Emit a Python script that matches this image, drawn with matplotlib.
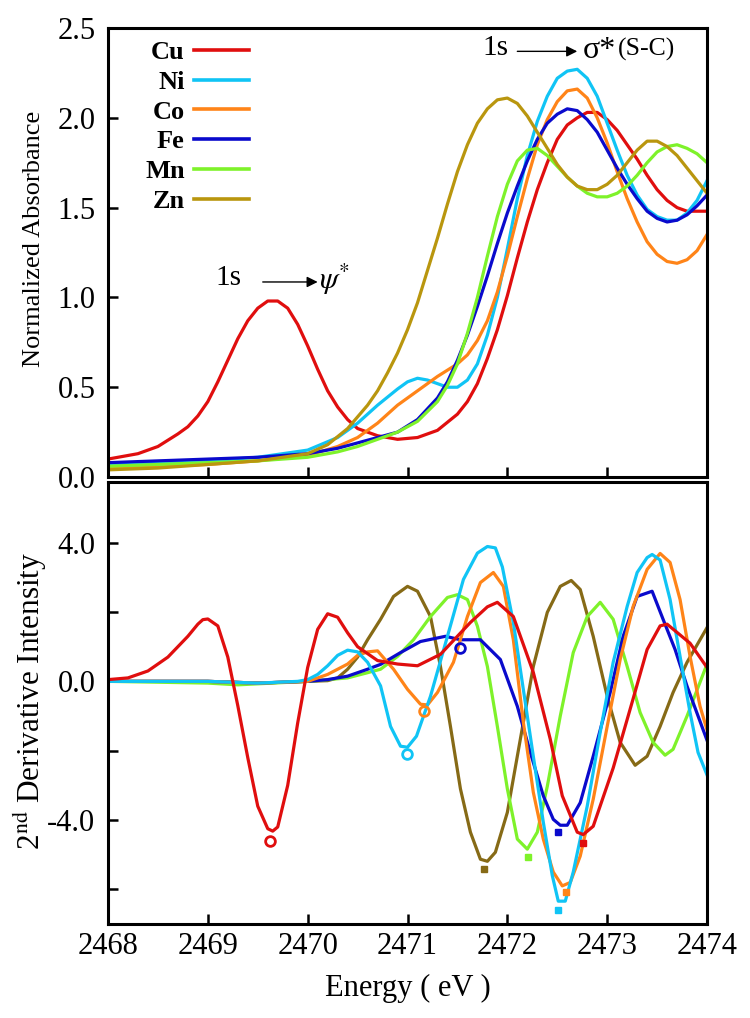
import matplotlib
matplotlib.use("Agg")
import matplotlib.pyplot as plt
from matplotlib.lines import Line2D
from matplotlib.ticker import MultipleLocator, FuncFormatter

plt.rcParams["font.family"] = ["Liberation Serif", "DejaVu Serif"]
plt.rcParams["mathtext.fontset"] = "stix"
plt.rcParams["axes.unicode_minus"] = False

# ---------------------------------------------------------------------
# Data (energy in eV)
# ---------------------------------------------------------------------
metals = ["Cu", "Ni", "Co", "Fe", "Mn", "Zn"]

# normalized absorbance (top panel)
cu_abs_e = [2468.0, 2468.3, 2468.5, 2468.7, 2468.8, 2468.9, 2469.0, 2469.1, 2469.2, 2469.3,
            2469.4, 2469.5, 2469.6, 2469.7, 2469.8, 2469.9, 2470.0, 2470.1, 2470.2, 2470.3,
            2470.4, 2470.5, 2470.7, 2470.9, 2471.1, 2471.3, 2471.5, 2471.6, 2471.7, 2471.8,
            2471.9, 2472.0, 2472.1, 2472.2, 2472.3, 2472.4, 2472.5, 2472.6, 2472.7, 2472.8,
            2472.9, 2473.0, 2473.1, 2473.2, 2473.3, 2473.4, 2473.5, 2473.6, 2473.7, 2473.8,
            2473.9, 2474.0]
cu_abs = [0.10, 0.13, 0.17, 0.24, 0.28, 0.34, 0.42, 0.53, 0.65, 0.77,
          0.87, 0.94, 0.98, 0.98, 0.94, 0.85, 0.73, 0.60, 0.48, 0.39,
          0.32, 0.27, 0.23, 0.21, 0.22, 0.26, 0.35, 0.42, 0.52, 0.66,
          0.82, 1.01, 1.22, 1.42, 1.60, 1.75, 1.88, 1.96, 2.00, 2.03,
          2.03, 1.99, 1.93, 1.85, 1.77, 1.68, 1.60, 1.54, 1.50, 1.48,
          1.48, 1.48]

ni_abs_e = [2468.0, 2468.5, 2469.0, 2469.5, 2470.0, 2470.3, 2470.5, 2470.7, 2470.9, 2471.0,
            2471.1, 2471.2, 2471.3, 2471.4, 2471.5, 2471.6, 2471.7, 2471.8, 2471.9, 2472.0,
            2472.1, 2472.2, 2472.3, 2472.4, 2472.5, 2472.6, 2472.7, 2472.8, 2472.9, 2473.0,
            2473.1, 2473.2, 2473.3, 2473.4, 2473.5, 2473.6, 2473.7, 2473.8, 2473.9, 2474.0]
ni_abs = [0.07, 0.08, 0.09, 0.11, 0.15, 0.22, 0.30, 0.40, 0.49, 0.53,
          0.55, 0.54, 0.52, 0.50, 0.50, 0.54, 0.63, 0.79, 1.00, 1.27,
          1.55, 1.79, 1.98, 2.12, 2.22, 2.26, 2.27, 2.22, 2.12, 1.97,
          1.82, 1.68, 1.57, 1.49, 1.45, 1.43, 1.43, 1.47, 1.54, 1.65]

co_abs_e = [2468.0, 2468.5, 2469.0, 2469.5, 2470.0, 2470.3, 2470.5, 2470.7, 2470.9, 2471.1,
            2471.3, 2471.5, 2471.6, 2471.7, 2471.8, 2471.9, 2472.0, 2472.1, 2472.2, 2472.3,
            2472.4, 2472.5, 2472.6, 2472.7, 2472.8, 2472.9, 2473.0, 2473.1, 2473.2, 2473.3,
            2473.4, 2473.5, 2473.6, 2473.7, 2473.8, 2473.9, 2474.0]
co_abs = [0.05, 0.06, 0.07, 0.09, 0.12, 0.17, 0.22, 0.30, 0.40, 0.48,
          0.56, 0.63, 0.68, 0.76, 0.87, 1.03, 1.23, 1.45, 1.66, 1.85,
          1.99, 2.09, 2.15, 2.16, 2.11, 2.00, 1.86, 1.70, 1.55, 1.42,
          1.31, 1.24, 1.20, 1.19, 1.21, 1.26, 1.35]

fe_abs_e = [2468.0, 2468.5, 2469.0, 2469.5, 2470.0, 2470.3, 2470.5, 2470.7, 2470.9, 2471.1,
            2471.3, 2471.4, 2471.5, 2471.6, 2471.7, 2471.8, 2471.9, 2472.0, 2472.1, 2472.2,
            2472.3, 2472.4, 2472.5, 2472.6, 2472.7, 2472.8, 2472.9, 2473.0, 2473.1, 2473.2,
            2473.3, 2473.4, 2473.5, 2473.6, 2473.7, 2473.8, 2473.9, 2474.0]
fe_abs = [0.08, 0.09, 0.10, 0.11, 0.13, 0.16, 0.19, 0.22, 0.25, 0.32,
          0.44, 0.53, 0.65, 0.79, 0.95, 1.12, 1.30, 1.47, 1.62, 1.76,
          1.88, 1.97, 2.02, 2.05, 2.04, 1.99, 1.92, 1.82, 1.72, 1.63,
          1.55, 1.48, 1.44, 1.42, 1.43, 1.46, 1.51, 1.57]

mn_abs_e = [2468.0, 2468.5, 2469.0, 2469.5, 2470.0, 2470.3, 2470.5, 2470.7, 2470.9, 2471.1,
            2471.3, 2471.4, 2471.5, 2471.6, 2471.7, 2471.8, 2471.9, 2472.0, 2472.1, 2472.2,
            2472.3, 2472.4, 2472.5, 2472.6, 2472.7, 2472.8, 2472.9, 2473.0, 2473.1, 2473.2,
            2473.3, 2473.4, 2473.5, 2473.6, 2473.7, 2473.8, 2473.9, 2474.0]
mn_abs = [0.06, 0.07, 0.08, 0.09, 0.11, 0.14, 0.17, 0.21, 0.25, 0.31,
          0.42, 0.51, 0.63, 0.80, 1.00, 1.23, 1.45, 1.63, 1.76, 1.82,
          1.83, 1.79, 1.73, 1.67, 1.62, 1.58, 1.56, 1.56, 1.58, 1.62,
          1.68, 1.75, 1.81, 1.84, 1.85, 1.83, 1.80, 1.75]

zn_abs_e = [2468.0, 2468.5, 2469.0, 2469.5, 2470.0, 2470.2, 2470.4, 2470.6, 2470.7, 2470.8,
            2470.9, 2471.0, 2471.1, 2471.2, 2471.3, 2471.4, 2471.5, 2471.6, 2471.7, 2471.8,
            2471.9, 2472.0, 2472.1, 2472.2, 2472.3, 2472.4, 2472.5, 2472.6, 2472.7, 2472.8,
            2472.9, 2473.0, 2473.1, 2473.2, 2473.3, 2473.4, 2473.5, 2473.6, 2473.7, 2473.8,
            2473.9, 2474.0]
zn_abs = [0.04, 0.05, 0.07, 0.09, 0.13, 0.18, 0.27, 0.40, 0.48, 0.58,
          0.69, 0.82, 0.97, 1.15, 1.33, 1.52, 1.70, 1.85, 1.97, 2.05,
          2.10, 2.11, 2.08, 2.01, 1.92, 1.83, 1.74, 1.67, 1.62, 1.60,
          1.60, 1.63, 1.68, 1.75, 1.82, 1.87, 1.87, 1.84, 1.79, 1.72,
          1.65, 1.58]

# 2nd derivative (bottom panel)
cu_d2_e = [2468.0, 2468.2, 2468.4, 2468.6, 2468.8, 2468.9, 2468.95, 2469.0, 2469.1, 2469.2,
           2469.3, 2469.4, 2469.5, 2469.6, 2469.65, 2469.7, 2469.8, 2469.9, 2470.0, 2470.1,
           2470.2, 2470.3, 2470.4, 2470.5, 2470.7, 2470.9, 2471.1, 2471.33, 2471.63, 2471.8,
           2471.9, 2472.06, 2472.26, 2472.43, 2472.55, 2472.7, 2472.76, 2472.86, 2473.06, 2473.26,
           2473.4, 2473.53, 2473.6, 2473.83, 2474.0]
cu_d2 = [0.05, 0.1, 0.3, 0.7, 1.3, 1.65, 1.78, 1.8, 1.6, 0.7,
         -0.7, -2.2, -3.6, -4.25, -4.32, -4.2, -3.0, -1.2, 0.4, 1.5,
         1.95, 1.85, 1.4, 1.0, 0.6, 0.5, 0.45, 0.78, 1.7, 2.15,
         2.28, 1.87, 0.26, -1.67, -3.3, -4.35, -4.42, -4.18, -2.5, -0.5,
         0.92, 1.6, 1.65, 1.1, 0.4]

ni_d2_e = [2468.0, 2469.0, 2469.5, 2469.9, 2470.0, 2470.1, 2470.2, 2470.3, 2470.4, 2470.5,
           2470.6, 2470.73, 2470.83, 2470.93, 2471.0, 2471.09, 2471.23, 2471.4, 2471.56, 2471.7,
           2471.8, 2471.88, 2471.95, 2472.06, 2472.16, 2472.26, 2472.36, 2472.45, 2472.51, 2472.58,
           2472.66, 2472.8, 2472.93, 2473.06, 2473.2, 2473.3, 2473.4, 2473.45, 2473.53, 2473.63,
           2473.73, 2473.83, 2473.91, 2474.0]
ni_d2 = [0.0, 0.0, -0.05, 0.0, 0.05, 0.2, 0.45, 0.75, 0.9, 0.85,
         0.55, -0.13, -1.3, -1.87, -1.9, -1.58, -0.43, 1.3, 2.94, 3.7,
         3.89, 3.85, 3.3, 1.7, -0.23, -2.16, -4.06, -5.6, -6.34, -6.34,
         -5.5, -3.6, -1.47, 0.55, 2.16, 3.14, 3.57, 3.66, 3.5, 2.36,
         0.72, -0.9, -2.05, -2.7]

co_d2_e = [2468.0, 2469.0, 2469.5, 2470.0, 2470.2, 2470.4, 2470.5, 2470.6, 2470.7, 2470.86,
           2471.0, 2471.13, 2471.2, 2471.3, 2471.46, 2471.6, 2471.73, 2471.86, 2471.96, 2472.06,
           2472.16, 2472.26, 2472.36, 2472.46, 2472.55, 2472.63, 2472.73, 2472.86, 2473.0, 2473.13,
           2473.26, 2473.4, 2473.53, 2473.63, 2473.73, 2473.83, 2473.93, 2474.0]
co_d2 = [0.0, 0.0, -0.05, 0.0, 0.2, 0.5, 0.75, 0.85, 0.88, 0.35,
         -0.23, -0.66, -0.68, -0.32, 0.55, 1.87, 2.85, 3.14, 2.74, 1.2,
         -1.18, -3.2, -4.55, -5.5, -5.9, -5.8, -5.04, -3.4, -1.3, 0.63,
         2.16, 3.23, 3.69, 3.43, 2.36, 0.72, -0.72, -1.4]

fe_d2_e = [2468.0, 2469.0, 2469.5, 2470.0, 2470.2, 2470.4, 2470.6, 2470.73, 2470.93, 2471.13,
           2471.38, 2471.53, 2471.73, 2471.93, 2472.1, 2472.23, 2472.36, 2472.46, 2472.53, 2472.6,
           2472.73, 2472.86, 2473.03, 2473.16, 2473.3, 2473.45, 2473.56, 2473.68, 2473.8, 2474.0]
fe_d2 = [0.0, 0.0, -0.05, 0.0, 0.05, 0.15, 0.35, 0.49, 0.83, 1.15,
         1.3, 1.2, 1.2, 0.63, -0.72, -2.05, -3.3, -3.98, -4.15, -4.15,
         -3.5, -2.16, -0.32, 1.3, 2.45, 2.6, 1.79, 0.92, -0.14, -1.7]

mn_d2_e = [2468.0, 2469.0, 2469.3, 2470.0, 2470.2, 2470.4, 2470.6, 2470.73, 2470.9, 2471.06,
           2471.23, 2471.4, 2471.5, 2471.6, 2471.7, 2471.8, 2471.9, 2472.0, 2472.1, 2472.2,
           2472.3, 2472.4, 2472.53, 2472.66, 2472.8, 2472.93, 2473.06, 2473.2, 2473.33, 2473.46,
           2473.58, 2473.66, 2473.8, 2474.0]
mn_d2 = [0.0, -0.05, -0.1, 0.0, 0.05, 0.1, 0.25, 0.35, 0.72, 1.2,
         1.87, 2.42, 2.5, 2.36, 1.59, 0.43, -1.3, -3.1, -4.55, -4.84,
         -4.35, -3.03, -1.0, 0.83, 1.87, 2.28, 1.79, 0.43, -0.9, -1.76,
         -2.13, -1.96, -1.0, 0.5]

zn_d2_e = [2468.0, 2469.0, 2469.5, 2470.0, 2470.2, 2470.3, 2470.4, 2470.5, 2470.6, 2470.73,
           2470.86, 2471.0, 2471.1, 2471.23, 2471.33, 2471.43, 2471.53, 2471.63, 2471.73, 2471.8,
           2471.88, 2472.0, 2472.13, 2472.26, 2472.4, 2472.53, 2472.64, 2472.73, 2472.86, 2473.0,
           2473.13, 2473.28, 2473.4, 2473.53, 2473.66, 2473.8, 2474.0]
zn_d2 = [0.0, 0.0, -0.05, 0.0, 0.02, 0.1, 0.35, 0.7, 1.2, 1.79,
         2.45, 2.74, 2.6, 1.87, 0.43, -1.3, -3.1, -4.35, -5.13, -5.19,
         -4.93, -3.78, -1.67, 0.43, 1.99, 2.74, 2.91, 2.65, 1.3, -0.43,
         -1.76, -2.42, -2.16, -1.3, -0.32, 0.55, 1.55]

# marked minima: open circles (pre-edge) and squares (main edge)
circle_e = [2469.62, 2470.99, 2471.17, 2471.53]
circle_d = [-4.6, -2.1, -0.86, 0.95]
circle_metal = ["Cu", "Ni", "Co", "Fe"]
square_e = [2472.76, 2472.51, 2472.59, 2472.51, 2472.21, 2471.77]
square_d = [-4.67, -6.6, -6.08, -4.35, -5.07, -5.42]

top_colors = {"Cu": "#E00E0E", "Ni": "#10C4F5", "Co": "#FF8418", "Fe": "#0A0ACC",
              "Mn": "#7EF22A", "Zn": "#B9960E"}
bot_colors = dict(top_colors, Zn="#866A16")

abs_data = {"Cu": (cu_abs_e, cu_abs), "Ni": (ni_abs_e, ni_abs), "Co": (co_abs_e, co_abs),
            "Fe": (fe_abs_e, fe_abs), "Mn": (mn_abs_e, mn_abs), "Zn": (zn_abs_e, zn_abs)}
d2_data = {"Cu": (cu_d2_e, cu_d2), "Ni": (ni_d2_e, ni_d2), "Co": (co_d2_e, co_d2),
           "Fe": (fe_d2_e, fe_d2), "Mn": (mn_d2_e, mn_d2), "Zn": (zn_d2_e, zn_d2)}

# ---------------------------------------------------------------------
fig = plt.figure(figsize=(7.5, 10.18), dpi=100)
ax1 = fig.add_axes([0.144, 0.5314, 0.7987, 0.4411])
ax2 = fig.add_axes([0.144, 0.0923, 0.7987, 0.4342])

lw = 2.3
for m in metals:
    e, a = abs_data[m]
    ax1.plot(e, a, color=top_colors[m], lw=lw, solid_joinstyle="round")
for m in ["Zn", "Mn", "Fe", "Co", "Ni", "Cu"]:
    e, d = d2_data[m]
    ax2.plot(e, d, color=bot_colors[m], lw=lw, solid_joinstyle="round")

for e, d, m in zip(circle_e, circle_d, circle_metal):
    ax2.plot(e, d, "o", ms=7, mfc="none", mec=bot_colors[m], mew=2)
for e, d, m in zip(square_e, square_d, metals):
    ax2.plot(e, d, "s", ms=5, color=bot_colors[m])

for ax in (ax1, ax2):
    ax.set_xlim(2468, 2474)
    for s in ax.spines.values():
        s.set_linewidth(2.2)
    ax.tick_params(direction="in", length=7, width=1.8, labelsize=22,
                   top=False, right=False)
    ax.xaxis.set_major_locator(MultipleLocator(1))

ax1.set_ylim(0, 2.5)
ax1.yaxis.set_major_locator(MultipleLocator(0.5))
ax1.yaxis.set_major_formatter(FuncFormatter(lambda v, p: f"{v:.1f}"))
ax1.tick_params(axis="x", labelbottom=False)
ax1.tick_params(axis="y", pad=9)
ax1.set_ylabel("Normalized Absorbance", fontsize=19)
ax1.yaxis.set_label_coords(-0.105, 0.53)

ax2.set_ylim(-7.0, 5.75)
ax2.yaxis.set_major_locator(MultipleLocator(2))
ax2.yaxis.set_major_formatter(
    FuncFormatter(lambda v, p: f"{v:.1f}" if round(v) % 4 == 0 else ""))
ax2.tick_params(axis="y", pad=9)
ax2.tick_params(axis="x", pad=6)
ax2.xaxis.set_major_formatter(FuncFormatter(lambda v, p: f"{v:.0f}"))
ax2.set_ylabel(r"2$^{\mathrm{nd}}$ Derivative Intensity", fontsize=22.5)
ax2.yaxis.set_label_coords(-0.098, 0.505)
ax2.set_xlabel("Energy ( eV )", fontsize=22)
ax2.xaxis.set_label_coords(0.5, -0.112)

# legend: label first, line after
handles = [Line2D([], [], color=top_colors[m], lw=2.6) for m in metals]
ax1.legend(handles, metals, loc="upper left", bbox_to_anchor=(0.062, 0.972),
           frameon=False, markerfirst=False, handlelength=2.1, handletextpad=0.35,
           labelspacing=0.24, borderpad=0, borderaxespad=0,
           prop={"family": "Liberation Serif", "weight": "bold", "size": 19})

# transition annotations
arrow = dict(arrowstyle="-|>", color="black", lw=1.0, mutation_scale=16, shrinkA=0, shrinkB=0)
ax1.text(2471.88, 2.39, "1s", fontsize=21, ha="center", va="center")
ax1.annotate("", xy=(2472.70, 2.37), xytext=(2472.10, 2.37), arrowprops=arrow)
ax1.text(2472.76, 2.375, "σ*", fontsize=23, ha="left", va="center")
ax1.text(2473.11, 2.38, "(S-C)", fontsize=18.5, ha="left", va="center")

ax1.text(2469.21, 1.11, "1s", fontsize=21, ha="center", va="center")
ax1.annotate("", xy=(2470.10, 1.086), xytext=(2469.55, 1.086), arrowprops=arrow)
ax1.text(2470.11, 1.10, r"$\psi^{*}$", fontsize=22, ha="left", va="center")

fig.savefig("out.png", dpi=100)
